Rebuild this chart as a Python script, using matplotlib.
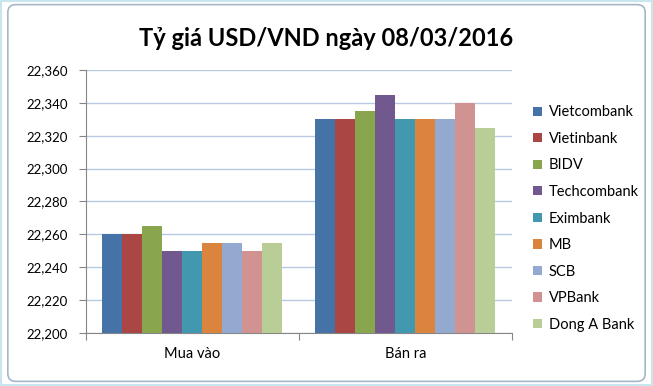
import numpy as np
import matplotlib.pyplot as plt
from matplotlib.patches import FancyBboxPatch, Patch

banks = ['Vietcombank', 'Vietinbank', 'BIDV', 'Techcombank', 'Eximbank',
         'MB', 'SCB', 'VPBank', 'Dong A Bank']
groups = ['Mua vào', 'Bán ra']
mua_vao = [22260, 22260, 22265, 22250, 22250, 22255, 22255, 22250, 22255]
ban_ra = [22330, 22330, 22335, 22345, 22330, 22330, 22330, 22340, 22325]
colors = ['#4572A7', '#AA4643', '#89A54E', '#71588F', '#4198AF',
          '#DB843D', '#93A9CF', '#D19392', '#B9CD96']

plt.rcParams['font.family'] = ['Lato', 'DejaVu Sans']

fig = plt.figure(figsize=(6.53, 3.86), dpi=100)
ax = fig.add_axes([0.1317, 0.1373, 0.6523, 0.6814])

w = 20 / 213
x = np.arange(len(groups))
base = 22200
for j, bank in enumerate(banks):
    vals = [mua_vao[j], ban_ra[j]]
    ax.bar(x + (j - 4) * w, [v - base for v in vals], width=w, bottom=base,
           color=colors[j], label=bank, zorder=3)

ax.set_xlim(-0.5, 1.5)
ax.set_ylim(22200, 22360)
ax.set_yticks(range(22200, 22361, 20))
ax.set_yticklabels([f'{v:,}' for v in range(22200, 22361, 20)], fontsize=9.5)
ax.yaxis.grid(True, color='#B9C9E2', linewidth=1, zorder=0)
ax.set_xticks([-0.5, 0.5, 1.5], minor=False)
ax.set_xticklabels([])
ax.set_xticks(x, minor=True)
ax.set_xticklabels(groups, minor=True, fontsize=10.5)
ax.tick_params(axis='x', which='minor', length=0, pad=10)
ax.tick_params(axis='x', which='major', length=5, color='#868686', direction='out')
ax.tick_params(axis='y', length=5, color='#868686', direction='out', pad=8)
for s in ['top', 'right']:
    ax.spines[s].set_visible(False)
for s in ['left', 'bottom']:
    ax.spines[s].set_color('#868686')

handles = [Patch(facecolor=c, label=b) for b, c in zip(banks, colors)]
fig.legend(handles=handles, loc='upper left', bbox_to_anchor=(0.805, 0.746),
           frameon=False, fontsize=10.5, handlelength=0.6, handleheight=0.6,
           handletextpad=0.5, labelspacing=0.86, borderpad=0)

fig.text(0.5, 0.9, 'Tỷ giá USD/VND ngày 08/03/2016', ha='center', va='center',
         fontsize=17, fontweight='bold')

frame = FancyBboxPatch((0.012, 0.012), 0.976, 0.976, boxstyle='round,pad=0,rounding_size=0.012',
                       transform=fig.transFigure, fill=False, edgecolor='#A5B6C8',
                       linewidth=1.2, mutation_aspect=653 / 386)
fig.patches.append(frame)
outer = plt.Rectangle((0.002, 0.003), 0.996, 0.994, transform=fig.transFigure,
                      fill=False, edgecolor='#C9E6EE', linewidth=1.5)
fig.patches.append(outer)

fig.savefig('out.png', dpi=100)
